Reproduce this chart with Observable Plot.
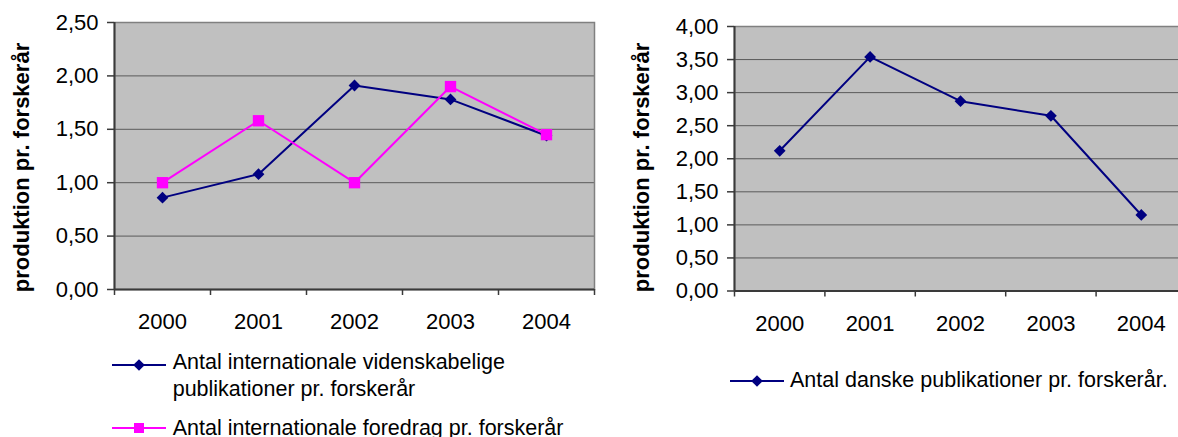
<!DOCTYPE html>
<html>
<head>
<meta charset="utf-8">
<script src="https://cdn.jsdelivr.net/npm/d3@7"></script>
<script src="https://cdn.jsdelivr.net/npm/@observablehq/plot@0.6"></script>
<style>
  html, body { margin: 0; padding: 0; background: #fff; }
  #root { position: relative; width: 1178px; height: 437px; overflow: hidden; font-family: "Liberation Sans", Arial, sans-serif; }
  .chart { position: absolute; top: 0; }
  .legend-text { position: absolute; font-size: 21.5px; line-height: 27px; color: #000; white-space: nowrap; }
  .swatch { position: absolute; }
</style>
</head>
<body>
<div id="root"></div>
<script>
// ---- data ----
const years = [2000, 2001, 2002, 2003, 2004];
const intlPublications = [0.86, 1.08, 1.91, 1.78, 1.44];
const intlTalks = [1.00, 1.58, 1.00, 1.90, 1.45];
const danishPublications = [2.12, 3.54, 2.87, 2.65, 1.15];
const leftYTicks = [0, 0.5, 1, 1.5, 2, 2.5];
const rightYTicks = [0, 0.5, 1, 1.5, 2, 2.5, 3, 3.5, 4];
const yAxisLabel = "produktion pr. forskerår";
const labelIntlPub = ["Antal internationale videnskabelige", "publikationer pr. forskerår"];
const labelIntlTalks = "Antal internationale foredrag pr. forskerår";
const labelDanish = "Antal danske publikationer pr. forskerår.";

const NAVY = "#000080";
const MAGENTA = "#ff00ff";

// symmetric diamond symbol (Excel-style)
const diamond = {
  draw(ctx, size) {
    const h = Math.sqrt(size / 2);
    ctx.moveTo(0, -h); ctx.lineTo(h, 0); ctx.lineTo(0, h); ctx.lineTo(-h, 0); ctx.closePath();
  }
};

const xDomain = [years[0] - 0.5, years[years.length - 1] + 0.5];
const boundaries = [...years.map(y => y - 0.5), years[years.length - 1] + 0.5];
const fmt = d => d.toFixed(2).replace(".", ",");

function toRows(values) { return years.map((year, i) => ({year, value: values[i]})); }

function makeChart({width, marginLeft, marginRight, marginTop, marginBottom, height, yTicks, series, labelDy}) {
  const marks = [
    Plot.frame({fill: "#c0c0c0"}),
    Plot.gridY(yTicks, {stroke: "#5a5a5a", strokeOpacity: 1, strokeWidth: 1}),
    Plot.frame({stroke: "#808080", strokeWidth: 1.5}),
    Plot.ruleY([yTicks[0]], {stroke: "#3a3a3a", strokeWidth: 2}),
    Plot.ruleX([xDomain[0]], {stroke: "#3a3a3a", strokeWidth: 2}),
    Plot.axisY(yTicks, {tickSize: 7, tickPadding: 9, tickFormat: fmt, fontSize: 22, stroke: "#3a3a3a", strokeWidth: 1.5, fill: "#000"}),
    Plot.axisX(boundaries, {tickSize: 6, tickFormat: () => "", stroke: "#3a3a3a", strokeWidth: 1.5}),
    Plot.axisX(years, {tickSize: 0, tickPadding: 24, tickFormat: d => String(d), fontSize: 22, fill: "#000"}),
    Plot.text([yAxisLabel], {text: d => d, frameAnchor: "left", rotate: -90, textAnchor: "middle", lineAnchor: "bottom",
      dx: 28.5 - marginLeft, dy: labelDy, fontSize: 22, fontWeight: "bold", fill: "#000"})
  ];
  for (const s of series) {
    marks.push(Plot.line(s.rows, {x: "year", y: "value", stroke: s.color, strokeWidth: 2}));
    marks.push(Plot.dot(s.rows, {x: "year", y: "value", symbol: s.symbol, r: s.r, fill: s.color, stroke: "none"}));
  }
  return Plot.plot({
    width, height, marginLeft, marginRight, marginTop, marginBottom,
    style: {fontFamily: "'Liberation Sans', Arial, sans-serif", fontSize: "22px", background: "transparent", overflow: "visible", color: "#000"},
    x: {domain: xDomain, label: null},
    y: {domain: [yTicks[0], yTicks[yTicks.length - 1]], label: null},
    marks
  });
}

const root = document.getElementById("root");

const left = makeChart({
  width: 600, height: 340, marginLeft: 114, marginRight: 6, marginTop: 22, marginBottom: 51,
  yTicks: leftYTicks, labelDy: 11.5,
  series: [
    {rows: toRows(intlPublications), color: NAVY, symbol: diamond, r: 4.7},
    {rows: toRows(intlTalks), color: MAGENTA, symbol: "square", r: 6.4}
  ]
});
left.classList.add("chart");
left.style.left = "0px";
root.appendChild(left);

const right = makeChart({
  width: 566, height: 340, marginLeft: 114, marginRight: 0, marginTop: 26, marginBottom: 49.5,
  yTicks: rightYTicks, labelDy: 8.75,
  series: [
    {rows: toRows(danishPublications), color: NAVY, symbol: diamond, r: 4.7}
  ]
});
right.classList.add("chart");
right.style.left = "620px";
root.appendChild(right);

// ---- legends ----
function swatch(x, y, color, kind) {
  const ns = "http://www.w3.org/2000/svg";
  const svg = document.createElementNS(ns, "svg");
  svg.setAttribute("width", 56); svg.setAttribute("height", 16);
  svg.classList.add("swatch");
  svg.style.left = x + "px"; svg.style.top = (y - 8) + "px";
  const line = document.createElementNS(ns, "line");
  line.setAttribute("x1", 0); line.setAttribute("x2", 54); line.setAttribute("y1", 8); line.setAttribute("y2", 8);
  line.setAttribute("stroke", color); line.setAttribute("stroke-width", 2);
  svg.appendChild(line);
  if (kind === "diamond") {
    const p = document.createElementNS(ns, "path");
    p.setAttribute("d", "M27,2.2L32.8,8L27,13.8L21.2,8Z"); p.setAttribute("fill", color);
    svg.appendChild(p);
  } else {
    const r = document.createElementNS(ns, "rect");
    r.setAttribute("x", 22); r.setAttribute("y", 3); r.setAttribute("width", 10); r.setAttribute("height", 10); r.setAttribute("fill", color);
    svg.appendChild(r);
  }
  root.appendChild(svg);
}
function text(x, top, lines) {
  const d = document.createElement("div");
  d.className = "legend-text";
  d.style.left = x + "px"; d.style.top = top + "px";
  d.innerHTML = (Array.isArray(lines) ? lines : [lines]).map(t => t.replace(/&/g, "&amp;")).join("<br>");
  root.appendChild(d);
}
swatch(111.5, 365, NAVY, "diamond");
text(172.7, 349, labelIntlPub);
swatch(111.5, 428.3, MAGENTA, "square");
text(172.7, 414.5, labelIntlTalks);
swatch(729.5, 381, NAVY, "diamond");
text(790, 367.3, labelDanish);
</script>
</body>
</html>
